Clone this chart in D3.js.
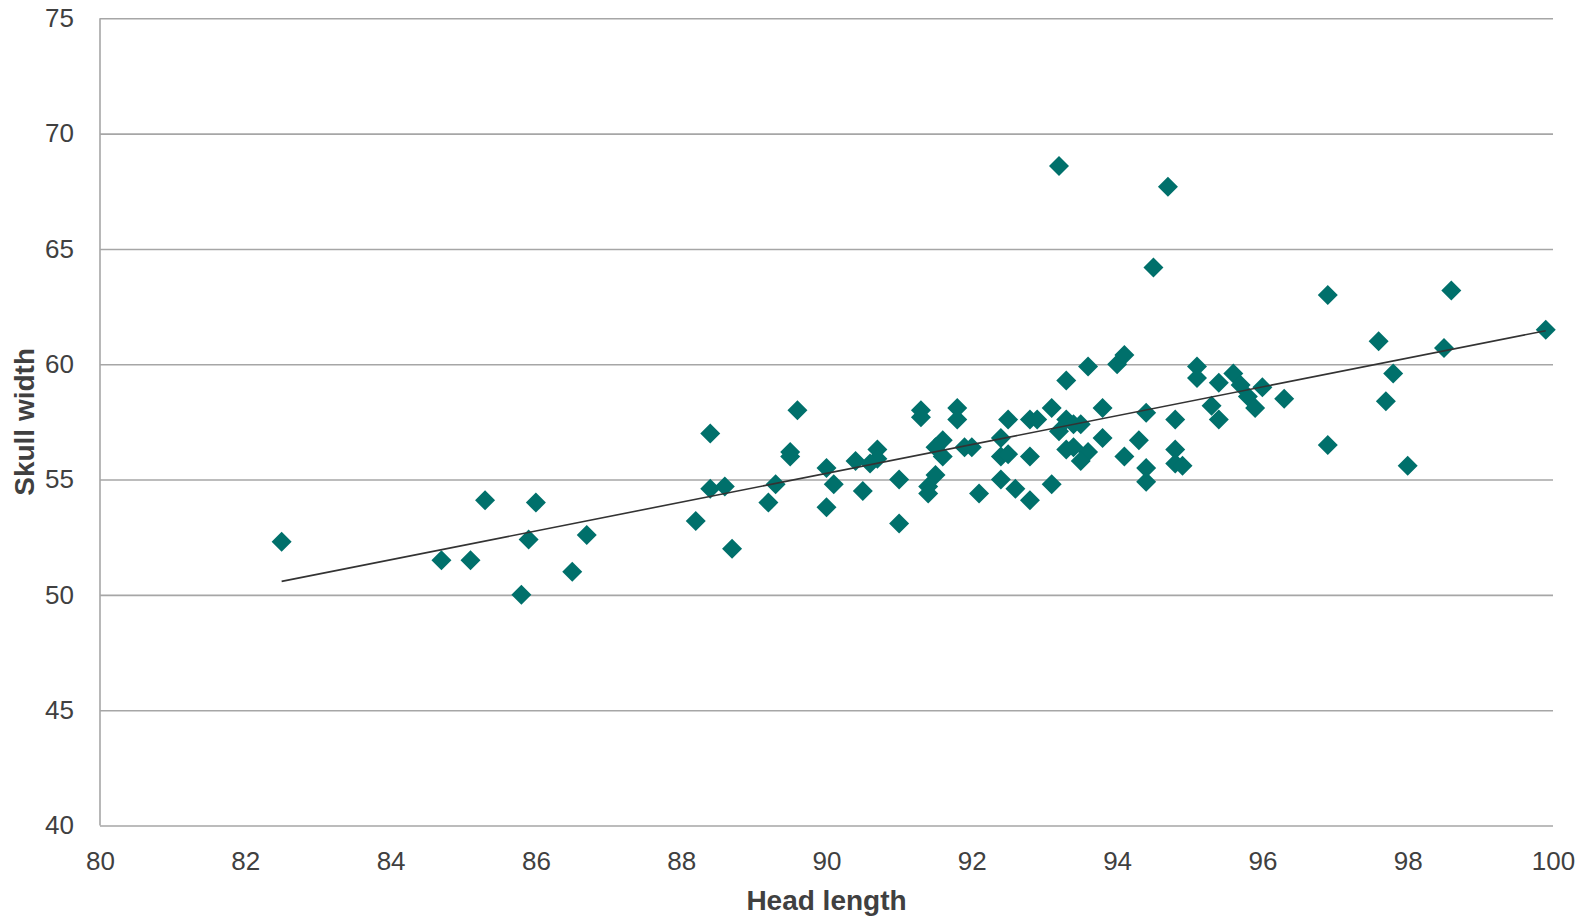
<!DOCTYPE html>
<html>
<head>
<meta charset="utf-8">
<script src="https://cdn.jsdelivr.net/npm/d3@7"></script>
<style>
  body { margin: 0; background: #fff; }
  svg { display: block; }
</style>
</head>
<body>
<div id="chart"></div>
<script>
// Data
//////////////////////////////////////////////////////////////////////
const headLength = [
  82.5, 84.7, 85.1, 85.3, 85.8, 85.9, 86.0, 86.5, 86.7,
  88.2, 88.4, 88.4, 88.6, 88.7, 89.2, 89.3, 89.5, 89.5, 89.6,
  90.0, 90.0, 90.1, 90.4, 90.5, 90.6, 90.7, 90.7,
  91.0, 91.0, 91.3, 91.3, 91.4, 91.4, 91.5, 91.5, 91.6, 91.6, 91.8, 91.8, 91.9,
  92.0, 92.1, 92.4, 92.4, 92.4, 92.5, 92.5, 92.6, 92.8, 92.9, 92.8, 92.8,
  93.1, 93.1, 93.2, 93.2, 93.3, 93.3, 93.4, 93.5, 93.3, 93.4, 93.6, 93.5, 93.6, 93.8, 93.8,
  94.0, 94.1, 94.1, 94.3, 94.4, 94.4, 94.4, 94.5, 94.7, 94.8, 94.8, 94.8, 94.9,
  95.1, 95.1, 95.3, 95.4, 95.4, 95.6, 95.7, 95.8, 95.9,
  96.0, 96.3, 96.9, 96.9, 97.6, 97.7, 97.8, 98.0, 98.5, 98.6, 99.9
];
const skullWidth = [
  52.3, 51.5, 51.5, 54.1, 50.0, 52.4, 54.0, 51.0, 52.6,
  53.2, 57.0, 54.6, 54.7, 52.0, 54.0, 54.8, 56.2, 56.0, 58.0,
  55.5, 53.8, 54.8, 55.8, 54.5, 55.7, 56.3, 55.9,
  55.0, 53.1, 58.0, 57.7, 54.7, 54.4, 55.2, 56.4, 56.7, 56.0, 58.1, 57.6, 56.4,
  56.4, 54.4, 56.8, 56.0, 55.0, 57.6, 56.1, 54.6, 57.6, 57.6, 56.0, 54.1,
  58.1, 54.8, 68.6, 57.1, 59.3, 57.6, 57.4, 57.4, 56.3, 56.4, 56.2, 55.8, 59.9, 58.1, 56.8,
  60.0, 60.4, 56.0, 56.7, 57.9, 55.5, 54.9, 64.2, 67.7, 57.6, 56.3, 55.7, 55.6,
  59.9, 59.4, 58.2, 59.2, 57.6, 59.6, 59.1, 58.6, 58.1,
  59.0, 58.5, 63.0, 56.5, 61.0, 58.4, 59.6, 55.6, 60.7, 63.2, 61.5
];
const xTicks = [80, 82, 84, 86, 88, 90, 92, 94, 96, 98, 100];
const yTicks = [40, 45, 50, 55, 60, 65, 70, 75];
const xTitle = "Head length";
const yTitle = "Skull width";

// Variables
//////////////////////////////////////////////////////////////////////
const width = 1589, height = 916;
const margin = { top: 18.3, right: 36, bottom: 90.5, left: 100 };
const fontFamily = "'Liberation Sans', Arial, sans-serif";
const pointColor = "#00706b";
const gridColor = "#a6a6a6";
const textColor = "#404040";

const points = headLength.map((x, i) => ({ x, y: skullWidth[i] }));

const x = d3.scaleLinear([80, 100], [margin.left, width - margin.right]);
const y = d3.scaleLinear([40, 75], [height - margin.bottom, margin.top]);

const svg = d3.select("#chart").append("svg")
  .attr("width", width)
  .attr("height", height)
  .attr("font-family", fontFamily);

// Horizontal gridlines
svg.append("g")
  .attr("transform", `translate(${margin.left},0)`)
  .call(d3.axisLeft(y).tickValues(yTicks).tickSize(-(width - margin.left - margin.right)).tickFormat(""))
  .call(g => g.select(".domain").remove())
  .call(g => g.selectAll("line").attr("stroke", gridColor).attr("stroke-width", 1.6));

// Left axis line
svg.append("line")
  .attr("x1", margin.left).attr("x2", margin.left)
  .attr("y1", y(75)).attr("y2", y(40))
  .attr("stroke", gridColor).attr("stroke-width", 1.6);

// Y tick labels
svg.append("g")
  .attr("transform", `translate(${margin.left},0)`)
  .call(d3.axisLeft(y).tickValues(yTicks).tickSize(0).tickPadding(26))
  .call(g => g.select(".domain").remove())
  .call(g => g.selectAll("text").attr("font-size", 26).attr("fill", textColor).attr("font-family", fontFamily));

// X tick labels
svg.append("g")
  .attr("transform", `translate(0,${height - margin.bottom})`)
  .call(d3.axisBottom(x).tickValues(xTicks).tickSize(0).tickPadding(26))
  .call(g => g.select(".domain").remove())
  .call(g => g.selectAll("text").attr("font-size", 26).attr("fill", textColor).attr("font-family", fontFamily));

// Axis titles
svg.append("text")
  .attr("x", (margin.left + width - margin.right) / 2)
  .attr("y", 910)
  .attr("text-anchor", "middle")
  .attr("font-size", 28).attr("font-weight", "bold").attr("fill", textColor)
  .text(xTitle);

svg.append("text")
  .attr("transform", `translate(34,${(margin.top + height - margin.bottom) / 2}) rotate(-90)`)
  .attr("text-anchor", "middle")
  .attr("font-size", 28).attr("font-weight", "bold").attr("fill", textColor)
  .text(yTitle);

// Points (diamonds)
svg.append("g")
  .attr("fill", pointColor)
  .selectAll("path")
  .data(points)
  .join("path")
  .attr("d", d3.symbol(d3.symbolSquare, 200))
  .attr("transform", d => `translate(${x(d.x)},${y(d.y)}) rotate(45)`);

// Linear trendline (least squares over the points)
const mx = d3.mean(points, d => d.x), my = d3.mean(points, d => d.y);
const slope = d3.sum(points, d => (d.x - mx) * (d.y - my)) / d3.sum(points, d => (d.x - mx) ** 2);
const icpt = my - slope * mx;
const [x0, x1] = d3.extent(points, d => d.x);
svg.append("line")
  .attr("x1", x(x0)).attr("y1", y(icpt + slope * x0))
  .attr("x2", x(x1)).attr("y2", y(icpt + slope * x1))
  .attr("stroke", "#333").attr("stroke-width", 1.6);
</script>
</body>
</html>
